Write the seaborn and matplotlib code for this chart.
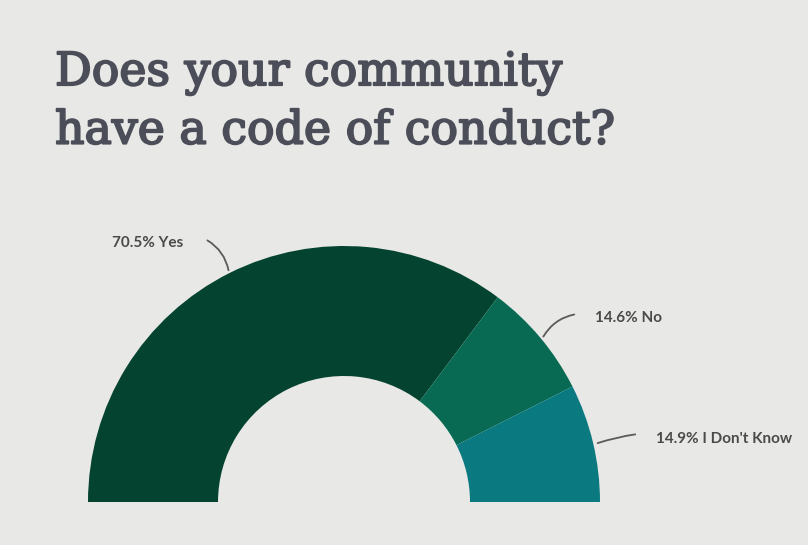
import numpy as np
import seaborn as sns
import matplotlib.pyplot as plt
import matplotlib.patheffects as pe

# data
labels = ['Yes', 'No', "I Don't Know"]
shares = [70.5, 14.6, 14.9]
colors = ['#03432f', '#086a52', '#0a7a80']

sns.set_style("white")
plt.rcParams['font.family'] = ['Lato', 'DejaVu Sans']

W, H = 808, 545
fig = plt.figure(figsize=(W / 100, H / 100), dpi=100)
fig.patch.set_facecolor('#e8e8e6')
ax = fig.add_axes([0, 0, 1, 1])
ax.set_facecolor('#e8e8e6')

# half donut: pad with an invisible wedge so the three shares fill 180 degrees
cx, cy = 344, H - 502
R, ring = 256, 130
vals = shares + [sum(shares)]
wedges, _ = ax.pie(vals, colors=colors + ['none'], startangle=180, counterclock=False,
                   radius=R, center=(cx, cy),
                   wedgeprops=dict(width=ring, linewidth=0))
ax.set_xlim(0, W)
ax.set_ylim(0, H)
ax.set_aspect('equal')
ax.axis('off')

# leader lines + labels (pixel coords converted to data coords)
def lbl(text, tx, ty, p0, p1, rad, ha='left'):
    ax.annotate('', xy=(p1[0], H - p1[1]), xytext=(p0[0], H - p0[1]),
                arrowprops=dict(arrowstyle='-', color='#5a5a5a', lw=1.3,
                                connectionstyle=f'arc3,rad={rad}'))
    ax.text(tx, H - ty, text, ha=ha, va='center', fontsize=11,
            fontweight='bold', color='#4a4a4a')

lbl(f'{shares[0]}% {labels[0]}', 112, 243, (205, 239), (229, 273), -0.25)
lbl(f'{shares[1]}% {labels[1]}', 595, 318, (577, 314), (542, 339), 0.25)
lbl(f'{shares[2]}% {labels[2]}', 656, 439, (638, 434), (595, 444), 0.05)

# title (regular serif thickened a little with a stroke)
tcol = '#4b4e58'
for txt, py in [('Does your community', 73), ('have a code of conduct?', 131)]:
    ax.text(55, H - py, txt, fontsize=33, family='DejaVu Serif',
            color=tcol, va='center', ha='left',
            path_effects=[pe.withStroke(linewidth=1.4, foreground=tcol)])

plt.savefig('out.png', dpi=100, facecolor=fig.get_facecolor())
